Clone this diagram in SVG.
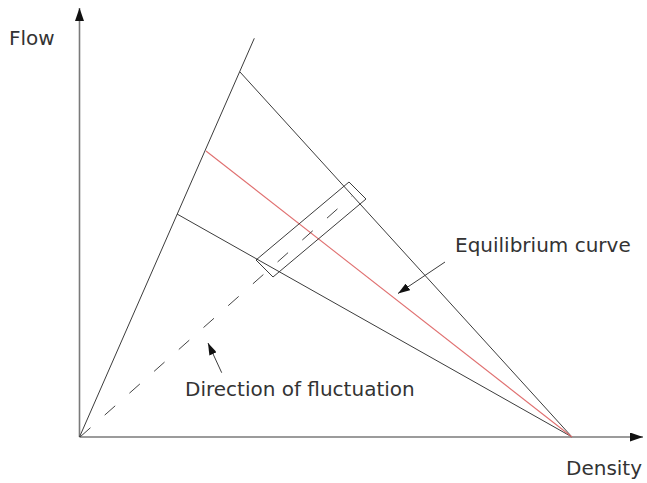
<svg xmlns="http://www.w3.org/2000/svg" width="647" height="483" viewBox="0 0 647 483">
<style>
.t{font-family:"DejaVu Sans",sans-serif;font-size:20px;fill:#333}
.ln{stroke:#3c3c3c;stroke-width:1;fill:none}
.ax{stroke:#7a7a7a;stroke-width:1.6;fill:none}
.red{stroke:#e07070;stroke-width:1.1;fill:none}
.dash{stroke:#444;stroke-width:1;stroke-dasharray:14 19;fill:none}
</style>
<defs>
<marker id="ah" markerWidth="12" markerHeight="8" refX="12" refY="4" orient="auto" markerUnits="userSpaceOnUse">
<path d="M0,0 L12,4 L0,8 Z" fill="#111"/>
</marker>
<marker id="axh" markerWidth="13" markerHeight="9" refX="13" refY="4.5" orient="auto" markerUnits="userSpaceOnUse">
<path d="M0,0 L13,4.5 L0,9 Z" fill="#111"/>
</marker>
</defs>
<g id="axes">
<line class="ax" x1="79.5" y1="437" x2="79.5" y2="8" marker-end="url(#axh)"/>
<line class="ax" x1="79.5" y1="437" x2="643" y2="437" marker-end="url(#axh)"/>
</g>
<g id="connectors">
<line class="ln" x1="79.5" y1="437" x2="254.3" y2="38.3"/>
<line class="ln" x1="240" y1="72" x2="572" y2="437"/>
<line class="ln" x1="177" y1="214" x2="572" y2="437"/>
<line class="red" x1="206" y1="151" x2="572" y2="437"/>
<line class="dash" x1="80" y1="437" x2="352" y2="196"/>
<line class="ln" x1="445" y1="262" x2="398" y2="293.5" marker-end="url(#ah)"/>
<line class="ln" x1="221.7" y1="372.7" x2="208" y2="343" marker-end="url(#ah)"/>
</g>
<g id="rect">
<polygon class="ln" points="256,260 349,182 366,199 273,277"/>
</g>
<g id="labels">
<text class="t" x="9" y="45">Flow</text>
<text class="t" x="566" y="475">Density</text>
<text class="t" x="455" y="252">Equilibrium curve</text>
<text class="t" x="185" y="396">Direction of fluctuation</text>
</g>
</svg>
